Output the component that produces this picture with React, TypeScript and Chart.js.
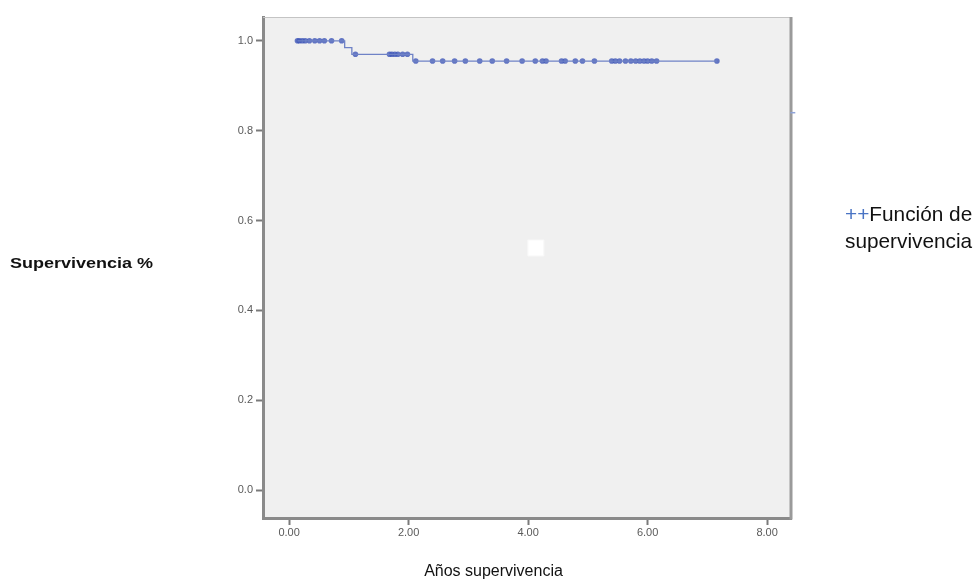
import React, { useEffect, useRef } from "react";
import { Chart, registerables } from "chart.js";

Chart.register(...registerables);

// Kaplan-Meier step function (event times and survival after each step)
const stepTimes = [0.14, 0.93, 1.05, 2.07, 7.16];
const stepSurvival = [1.0, 0.985, 0.97, 0.955, 0.955];

// Censored observations, grouped by survival level
const censoredTimesAt100 = [0.14, 0.17, 0.22, 0.27, 0.34, 0.43, 0.51, 0.59, 0.71, 0.88];
const censoredTimesAt097 = [1.11, 1.68, 1.72, 1.77, 1.82, 1.9, 1.98];
const censoredTimesAt0955 = [
  2.12, 2.4, 2.57, 2.77, 2.95, 3.19, 3.4, 3.64, 3.9, 4.12, 4.24, 4.3, 4.56, 4.62,
  4.79, 4.91, 5.11, 5.4, 5.46, 5.53, 5.63, 5.72, 5.8, 5.87, 5.94, 6.0, 6.07, 6.15, 7.16,
];

// Artifacts present in the original picture
const whiteSquareX = [4.13];
const whiteSquareY = [0.539];
const strayMarkX = [8.43];
const strayMarkY = [0.84];

const xTicks = [0, 2, 4, 6, 8];
const yTicks = [0, 0.2, 0.4, 0.6, 0.8, 1.0];

const FONT = "'Liberation Sans', Arial, Helvetica, sans-serif";

const framePlugin = {
  id: "frame",
  beforeDraw(chart: any) {
    const { ctx, chartArea } = chart;
    const { left, top, right, bottom } = chartArea;
    ctx.save();
    ctx.fillStyle = "#f0f0f0";
    ctx.fillRect(left, top, right - left, bottom - top);
    ctx.restore();
  },
  beforeDatasetsDraw(chart: any) {
    const { ctx, chartArea } = chart;
    const { left, top, right, bottom } = chartArea;
    ctx.save();
    ctx.strokeStyle = "#c4c4c4";
    ctx.lineWidth = 1;
    ctx.beginPath();
    ctx.moveTo(left, top + 0.5);
    ctx.lineTo(right, top + 0.5);
    ctx.stroke();
    ctx.strokeStyle = "#9a9a9a";
    ctx.lineWidth = 3;
    ctx.beginPath();
    ctx.moveTo(right, top);
    ctx.lineTo(right, bottom + 1.5);
    ctx.stroke();
    ctx.restore();
  },
};

export default function App() {
  const canvasRef = useRef<HTMLCanvasElement | null>(null);

  useEffect(() => {
    if (!canvasRef.current) return;
    const lineData = stepTimes.map((t, i) => ({ x: t, y: stepSurvival[i] }));
    const censored = [
      ...censoredTimesAt100.map((t) => ({ x: t, y: 1.0 })),
      ...censoredTimesAt097.map((t) => ({ x: t, y: 0.97 })),
      ...censoredTimesAt0955.map((t) => ({ x: t, y: 0.955 })),
    ];
    const chart = new Chart(canvasRef.current, {
      type: "line",
      data: {
        datasets: [
          {
            type: "scatter",
            data: whiteSquareX.map((x, i) => ({ x, y: whiteSquareY[i] })),
            pointStyle: "rect",
            pointRadius: 11.3,
            backgroundColor: "#ffffff",
            borderColor: "#f8f8f8",
            borderWidth: 1,
          } as any,
          {
            type: "line",
            data: lineData,
            stepped: "before",
            borderColor: "#6f82c6",
            borderWidth: 1.3,
            pointRadius: 0,
            fill: false,
          } as any,
          {
            type: "scatter",
            data: censored,
            pointStyle: "circle",
            pointRadius: 2.8,
            backgroundColor: "rgba(62,86,184,0.8)",
            borderWidth: 0,
          } as any,
          {
            type: "scatter",
            data: strayMarkX.map((x, i) => ({ x, y: strayMarkY[i] })),
            pointStyle: "line",
            pointRadius: 2.5,
            borderColor: "#8fa3d8",
            borderWidth: 1.5,
            clip: false,
          } as any,
        ],
      },
      options: {
        animation: false,
        responsive: false,
        devicePixelRatio: 1,
        layout: { padding: { left: 0, top: 17, right: 188, bottom: 0 } },
        plugins: {
          legend: { display: false },
          tooltip: { enabled: false },
        },
        scales: {
          x: {
            type: "linear",
            min: -0.437,
            max: 8.4,
            afterBuildTicks: (scale: any) => {
              scale.ticks = xTicks.map((v) => ({ value: v }));
            },
            afterFit: (scale: any) => {
              scale.height = 68;
            },
            ticks: {
              callback: (v: any) => Number(v).toFixed(2),
              font: { family: FONT, size: 11 },
              color: "#5a5a5a",
              padding: 1,
              maxRotation: 0,
            },
            grid: {
              drawOnChartArea: false,
              drawTicks: true,
              tickLength: 7,
              tickColor: "#7a7a7a",
              tickWidth: 2,
            },
            border: { display: true, color: "#8a8a8a", width: 3 },
          },
          y: {
            type: "linear",
            min: -0.062,
            max: 1.053,
            afterBuildTicks: (scale: any) => {
              scale.ticks = yTicks.map((v) => ({ value: v }));
            },
            afterFit: (scale: any) => {
              scale.width = 263;
            },
            ticks: {
              callback: (v: any) => Number(v).toFixed(1),
              font: { family: FONT, size: 11 },
              color: "#5a5a5a",
              padding: 3,
            },
            grid: {
              drawOnChartArea: false,
              drawTicks: true,
              tickLength: 7,
              tickColor: "#7a7a7a",
              tickWidth: 2,
            },
            border: { display: true, color: "#8a8a8a", width: 3 },
          },
        },
      } as any,
      plugins: [framePlugin],
    });
    return () => chart.destroy();
  }, []);

  return (
    <div
      style={{
        position: "fixed",
        left: 0,
        top: 0,
        width: 979,
        height: 586,
        background: "#ffffff",
        fontFamily: FONT,
      }}
    >
      <canvas ref={canvasRef} width={979} height={586} style={{ position: "absolute", left: 0, top: 0 }} />
      <div
        style={{
          position: "absolute",
          left: 10,
          top: 254,
          fontSize: 15,
          fontWeight: "bold",
          color: "#111",
          whiteSpace: "nowrap",
          lineHeight: "18px",
          transform: "scaleX(1.2)",
          transformOrigin: "left center",
        }}
      >
        Supervivencia %
      </div>
      <div
        style={{
          position: "absolute",
          left: 845,
          top: 200,
          fontSize: 20.8,
          color: "#111",
          lineHeight: "27px",
          whiteSpace: "nowrap",
        }}
      >
        <span style={{ color: "#4a74c4" }}>++</span>Función de
        <br />
        supervivencia
      </div>
      <div
        style={{
          position: "absolute",
          left: 0,
          width: 979,
          top: 561,
          textAlign: "center",
          paddingLeft: 4,
          fontSize: 16,
          color: "#111",
          lineHeight: "20px",
        }}
      >
        Años supervivencia
      </div>
    </div>
  );
}
